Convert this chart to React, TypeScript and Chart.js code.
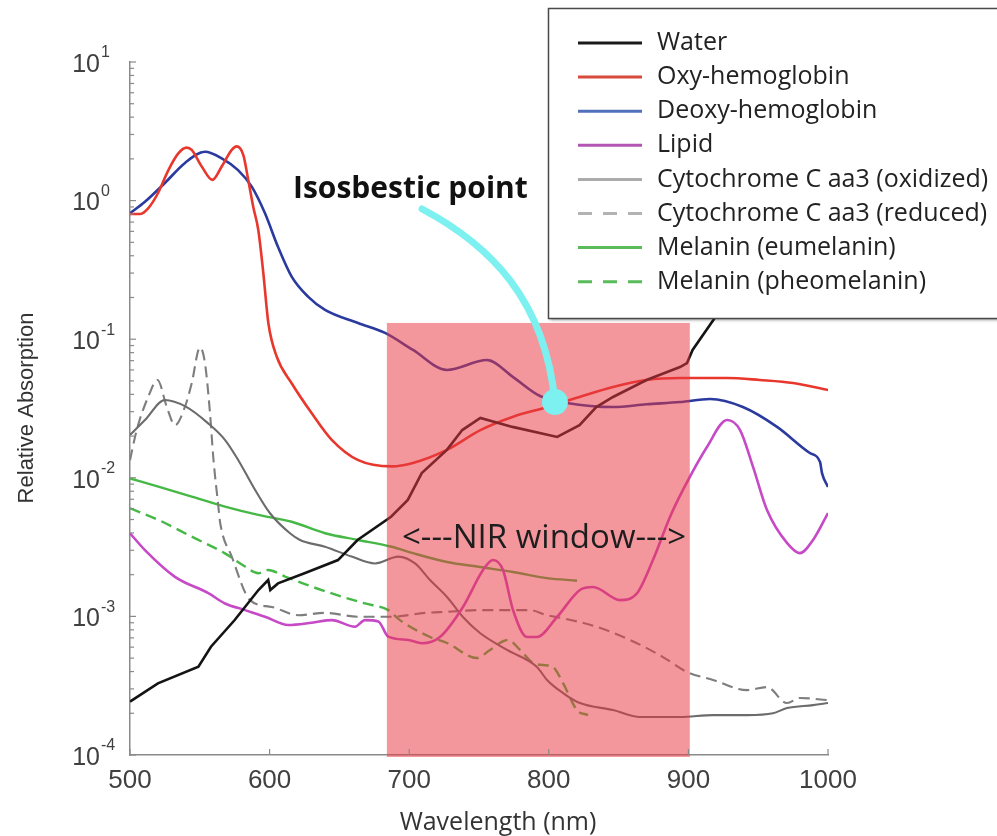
import React, { useEffect, useRef } from 'react';
import { Chart, registerables } from 'chart.js';

Chart.register(...registerables);

// ---- axis ticks ----
const xTickValues = [500, 600, 700, 800, 900, 1000];
const yTickExponents = [-4, -3, -2, -1, 0, 1];

// ---- series data (wavelength nm, relative absorption) ----
const waterWl = [500, 520, 549, 558, 575, 592, 599, 600.5, 606, 625, 649, 663, 687, 699, 709, 727, 738, 751, 774, 806, 822, 834, 846, 870, 894, 899, 903, 918, 940, 960, 975, 1000];
const water = [2.43e-4, 3.29e-4, 4.34e-4, 6.04e-4, 9.42e-4, 1.55e-3, 1.83e-3, 1.55e-3, 1.73e-3, 2.05e-3, 2.55e-3, 3.56e-3, 5.24e-3, 6.92e-3, 1.08e-2, 1.59e-2, 2.21e-2, 2.70e-2, 2.33e-2, 1.97e-2, 2.4e-2, 3.24e-2, 3.83e-2, 5.08e-2, 6.3e-2, 6.73e-2, 8.36e-2, 0.138, 0.30, 0.42, 0.45, 0.38];

const oxyWl = [500, 507, 513, 520, 527.5, 534.6, 540.6, 544.2, 551.4, 559, 565.7, 572.9, 576.4, 581.2, 584.7, 588.3, 591.9, 595.5, 599.1, 605.1, 615.8, 630.2, 644.5, 663.5, 687.5, 702.7, 727, 751, 774, 799, 822, 846, 870, 894, 928, 951, 975, 1000];
const oxyHb = [0.80, 0.80, 0.88, 1.13, 1.66, 2.19, 2.41, 2.32, 1.76, 1.41, 1.76, 2.32, 2.46, 2.13, 1.41, 0.90, 0.614, 0.30, 0.131, 0.0748, 0.0481, 0.0292, 0.0188, 0.0134, 0.0121, 0.0128, 0.0159, 0.0221, 0.0275, 0.0324, 0.0383, 0.0452, 0.0508, 0.0525, 0.0525, 0.0508, 0.0483, 0.043];

const deoxyWl = [500, 510.7, 525, 539.4, 553.7, 565.7, 577.4, 587.2, 596.7, 606, 615.8, 627.5, 639.7, 663.3, 682.7, 702.7, 727, 755.7, 774.4, 793.7, 813, 846, 870, 894, 915.5, 939, 963.5, 987, 994.3, 995.7, 1000];
const deoxyHb = [0.81, 0.98, 1.34, 1.87, 2.25, 2.02, 1.66, 1.26, 0.81, 0.464, 0.283, 0.203, 0.163, 0.131, 0.111, 0.0836, 0.060, 0.0708, 0.0533, 0.0389, 0.0347, 0.0324, 0.0339, 0.0352, 0.037, 0.0324, 0.0233, 0.0151, 0.013, 0.0108, 0.0086];

const lipidWl = [500, 510.7, 532.2, 556.1, 568, 582.4, 596.7, 613.4, 630.2, 644.5, 661.2, 668.3, 677.9, 685, 699.4, 709, 722, 738.5, 752.9, 760, 767.2, 774.4, 784.4, 791.5, 805.9, 822.3, 831.7, 851, 863.2, 874.6, 886.8, 896.1, 913.3, 927.7, 937, 946.3, 956.3, 970.6, 979.9, 989.3, 1000];
const lipid = [3.98e-3, 3.01e-3, 1.93e-3, 1.47e-3, 1.24e-3, 1.11e-3, 9.95e-4, 8.67e-4, 9.0e-4, 9.4e-4, 8.43e-4, 9.4e-4, 9.2e-4, 7.14e-4, 6.76e-4, 6.4e-4, 7.1e-4, 1.17e-3, 2.16e-3, 2.55e-3, 2.16e-3, 1.11e-3, 7.1e-4, 7.1e-4, 9.9e-4, 1.55e-3, 1.63e-3, 1.31e-3, 1.47e-3, 2.55e-3, 5.21e-3, 8.17e-3, 1.67e-2, 2.61e-2, 2.21e-2, 1.20e-2, 5.86e-3, 3.39e-3, 2.86e-3, 3.56e-3, 5.57e-3];

const cytoOxWl = [500, 510.7, 525, 540, 556, 568, 577.6, 588.3, 600.3, 614.6, 621.8, 639.7, 658.8, 675.5, 692.2, 704.2, 714.9, 727.1, 738.5, 750.7, 770.1, 791.5, 798.7, 810.2, 822.3, 846, 865.3, 894, 917.6, 942, 960.6, 970.6, 989.3, 1000];
const cytoOx = [0.0204, 0.0261, 0.0364, 0.0326, 0.0247, 0.0188, 0.0134, 0.00863, 0.00555, 0.00398, 0.00356, 0.00318, 0.0027, 0.00241, 0.0027, 0.00241, 0.00183, 0.00138, 0.00099, 0.000759, 0.000573, 0.000432, 0.000348, 0.00028, 0.000237, 0.000211, 0.000188, 0.000188, 0.000194, 0.000194, 0.0002, 0.000218, 0.000229, 0.000237];

const cytoRedWl = [500, 504.8, 513.1, 519.7, 526.3, 532.2, 539.4, 544.2, 550.1, 553.7, 557.3, 559.7, 563.3, 564.5, 572.9, 586, 601.5, 620.6, 639.7, 663.5, 687.5, 711.3, 727.1, 750.7, 786.5, 798.7, 810.2, 834.5, 858.2, 881.8, 899, 917.6, 942, 956.3, 970.6, 979.9, 999.3];
const cytoRed = [0.0134, 0.0221, 0.0385, 0.0508, 0.0326, 0.024, 0.0326, 0.0481, 0.0871, 0.0673, 0.0294, 0.0139, 0.0062, 0.0048, 0.0027, 0.00131, 0.00117, 0.00102, 0.00106, 0.000995, 0.000995, 0.00106, 0.00108, 0.00111, 0.00111, 0.00102, 0.00097, 0.00084, 0.000676, 0.000509, 0.000397, 0.000348, 0.000294, 0.000309, 0.000237, 0.000258, 0.000249];

const eumelWl = [500, 520.3, 544.2, 568, 591.9, 615.8, 639.7, 663.5, 687.5, 702.7, 727.1, 750.7, 774.4, 798.7, 820.2];
const eumelanin = [0.0099, 0.00863, 0.00731, 0.0062, 0.0054, 0.00482, 0.00398, 0.00356, 0.00318, 0.00286, 0.00247, 0.00227, 0.00209, 0.00189, 0.00181];

const pheoWl = [500, 520.3, 544.2, 568, 582.4, 591.9, 599, 611, 630.2, 651.6, 668.3, 685, 693.4, 714.9, 727.1, 748.6, 757.9, 770.8, 779.4, 788.7, 795.8, 803, 810.2, 820.2, 828.1];
const pheomelanin = [0.00603, 0.00497, 0.00376, 0.00285, 0.00229, 0.00205, 0.00216, 0.00194, 0.00164, 0.00139, 0.00124, 0.00111, 0.00094, 0.00071, 0.000643, 0.000501, 0.000573, 0.000676, 0.000573, 0.000461, 0.000446, 0.000432, 0.00033, 0.000211, 0.000194];

const seriesNames = ['Water', 'Oxy-hemoglobin', 'Deoxy-hemoglobin', 'Lipid', 'Cytochrome C aa3 (oxidized)', 'Cytochrome C aa3 (reduced)', 'Melanin (eumelanin)', 'Melanin (pheomelanin)'];

// ---- annotations (data coordinates) ----
const nirWindow = { from: 684, to: 901, top: 0.131 };
const isoPoint = { x: 804.4, y: 0.0352 };
const isoCurve = { start: [709.2, 0.87], c1: [757.9, 0.479], c2: [797.3, 0.192] };

// ---- styles ----
const lineColors = ['#141414', '#e8372c', '#2b3a9e', '#c649c6', '#6c6c6c', '#7e7e7e', '#46b846', '#46b846'];
const legendColors = ['#1a1a1a', '#d84a3c', '#5070bc', '#b455b4', '#ababab', '#b3b3b3', '#5abb5a', '#5abb5a'];
const lineWidths = [2.6, 2.6, 2.6, 2.6, 2.1, 2.1, 2.4, 2.4];
const dashed = [false, false, false, false, false, true, false, true];
const smooth = [false, true, true, true, true, true, true, true];

const wlArrays = [waterWl, oxyWl, deoxyWl, lipidWl, cytoOxWl, cytoRedWl, eumelWl, pheoWl];
const valArrays = [water, oxyHb, deoxyHb, lipid, cytoOx, cytoRed, eumelanin, pheomelanin];

const decorPlugin = {
  id: 'decor',
  afterDatasetsDraw(chart: any) {
    const { ctx, scales, chartArea } = chart;
    const x = scales.x, y = scales.y;
    // NIR window overlay
    ctx.save();
    const l = x.getPixelForValue(nirWindow.from);
    const r = x.getPixelForValue(nirWindow.to);
    const t = y.getPixelForValue(nirWindow.top);
    ctx.fillStyle = 'rgba(232,55,65,0.52)';
    ctx.fillRect(l, t, r - l, chartArea.bottom + 2 - t);
    ctx.restore();
  },
  afterDraw(chart: any) {
    const { ctx, scales, chartArea } = chart;
    const x = scales.x, y = scales.y;
    ctx.save();
    // tick marks (inward)
    ctx.strokeStyle = '#8a8a8a';
    ctx.lineWidth = 1.2;
    xTickValues.forEach((v) => {
      const px = x.getPixelForValue(v);
      ctx.beginPath();
      ctx.moveTo(px, chartArea.bottom);
      ctx.lineTo(px, chartArea.bottom - 6);
      ctx.stroke();
    });
    yTickExponents.forEach((e) => {
      for (let m = 1; m <= 9; m++) {
        if (e === 1 && m > 1) break;
        const py = y.getPixelForValue(m * Math.pow(10, e));
        ctx.beginPath();
        ctx.moveTo(chartArea.left, py);
        ctx.lineTo(chartArea.left + (m === 1 ? 6 : 4), py);
        ctx.stroke();
      }
    });
    // x tick labels
    ctx.fillStyle = '#404040';
    ctx.font = '26px "Liberation Sans", Arial, sans-serif';
    ctx.textAlign = 'center';
    ctx.textBaseline = 'middle';
    xTickValues.forEach((v) => {
      ctx.fillText(String(v), x.getPixelForValue(v), 781);
    });
    // y tick labels 10^n
    yTickExponents.forEach((e) => {
      const py = y.getPixelForValue(Math.pow(10, e));
      ctx.font = '25px "Liberation Sans", Arial, sans-serif';
      ctx.textAlign = 'right';
      ctx.textBaseline = 'middle';
      ctx.fillText('10', 100, py + 3);
      ctx.font = '16px "Liberation Sans", Arial, sans-serif';
      ctx.textAlign = 'left';
      ctx.fillText(String(e), 101, py - 9);
    });
    // axis titles
    ctx.fillStyle = '#333';
    ctx.font = '25px "Open Sans", sans-serif';
    ctx.textAlign = 'center';
    ctx.textBaseline = 'alphabetic';
    ctx.fillText('Wavelength (nm)', 498, 830);
    ctx.save();
    ctx.translate(27, 408);
    ctx.rotate(-Math.PI / 2);
    ctx.font = '22px "Liberation Sans", Arial, sans-serif';
    ctx.textBaseline = 'middle';
    ctx.fillText('Relative Absorption', 0, 0);
    ctx.restore();

    // NIR window label
    ctx.fillStyle = '#1e1e1e';
    ctx.font = '33px "Open Sans", sans-serif';
    ctx.textAlign = 'left';
    ctx.textBaseline = 'alphabetic';
    ctx.fillText('<---NIR window--->', 402, 548);

    // isosbestic annotation
    const P = (p: number[]) => [x.getPixelForValue(p[0]), y.getPixelForValue(p[1])];
    const s = P(isoCurve.start), c1 = P(isoCurve.c1), c2 = P(isoCurve.c2);
    const e = [x.getPixelForValue(isoPoint.x), y.getPixelForValue(isoPoint.y)];
    ctx.strokeStyle = '#7df0f0';
    ctx.lineWidth = 7;
    ctx.lineCap = 'round';
    ctx.beginPath();
    ctx.moveTo(s[0], s[1]);
    ctx.bezierCurveTo(c1[0], c1[1], c2[0], c2[1], e[0], e[1]);
    ctx.stroke();
    ctx.fillStyle = '#7df0f0';
    ctx.beginPath();
    ctx.arc(e[0], e[1], 13, 0, Math.PI * 2);
    ctx.fill();
    ctx.fillStyle = '#111';
    ctx.font = 'bold 30px "Open Sans", sans-serif';
    ctx.fillText('Isosbestic point', 293, 198);

    // legend box
    ctx.save();
    ctx.shadowColor = 'rgba(0,0,0,0.4)';
    ctx.shadowOffsetX = 2;
    ctx.shadowOffsetY = 2;
    ctx.shadowBlur = 3;
    ctx.fillStyle = '#ffffff';
    ctx.fillRect(548, 8, 470, 310);
    ctx.restore();
    ctx.strokeStyle = '#4a4a4a';
    ctx.lineWidth = 1.5;
    ctx.strokeRect(548.5, 8.5, 470, 310);
    seriesNames.forEach((name, i) => {
      const ry = 43 + i * 34.1;
      ctx.strokeStyle = legendColors[i];
      ctx.lineWidth = 3;
      ctx.lineCap = 'butt';
      ctx.setLineDash(dashed[i] ? [14, 11] : []);
      ctx.beginPath();
      ctx.moveTo(578, ry);
      ctx.lineTo(642, ry);
      ctx.stroke();
      ctx.setLineDash([]);
      ctx.fillStyle = '#222';
      ctx.font = '25px "Open Sans", sans-serif';
      ctx.textAlign = 'left';
      ctx.textBaseline = 'middle';
      ctx.fillText(name, 657, ry);
    });
    ctx.restore();
  },
};

export default function App() {
  const ref = useRef<HTMLCanvasElement>(null);
  useEffect(() => {
    const canvas = ref.current;
    if (!canvas) return;
    const datasets = seriesNames.map((name, i) => ({
      label: name,
      data: wlArrays[i].map((w, j) => ({ x: w, y: valArrays[i][j] })),
      borderColor: lineColors[i],
      backgroundColor: lineColors[i],
      borderWidth: lineWidths[i],
      borderDash: dashed[i] ? [11, 6] : [],
      pointRadius: 0,
      fill: false,
      tension: smooth[i] ? 0.4 : 0,
      cubicInterpolationMode: smooth[i] ? ('monotone' as const) : ('default' as const),
    }));
    const chart = new Chart(canvas, {
      type: 'line',
      data: { datasets },
      options: {
        animation: false,
        responsive: false,
        devicePixelRatio: 1,
        events: [],
        layout: { padding: { top: 62, right: 169, left: 0, bottom: 0 } },
        plugins: { legend: { display: false }, tooltip: { enabled: false } },
        scales: {
          x: {
            type: 'linear',
            min: 500,
            max: 1000,
            grid: { display: false },
            ticks: { display: false },
            border: { display: true, color: '#8a8a8a', width: 1.5 },
            afterFit: (s: any) => { s.height = 81; },
          },
          y: {
            type: 'logarithmic',
            min: 1e-4,
            max: 10,
            grid: { display: false },
            ticks: { display: false },
            border: { display: true, color: '#8a8a8a', width: 1.5 },
            afterFit: (s: any) => { s.width = 130; },
          },
        },
      },
      plugins: [decorPlugin],
    });
    return () => chart.destroy();
  }, []);
  return (
    <div style={{ position: 'absolute', left: 0, top: 0, width: 997, height: 836, background: '#fff' }}>
      <canvas ref={ref} width={997} height={836} style={{ display: 'block' }} />
    </div>
  );
}
